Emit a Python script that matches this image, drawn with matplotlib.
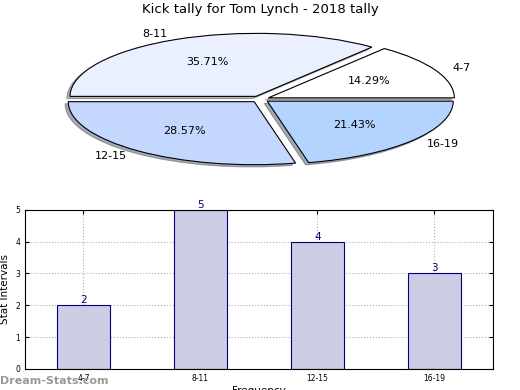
import matplotlib
matplotlib.use("Agg")
import matplotlib.pyplot as plt

categories = ["4-7", "8-11", "12-15", "16-19"]
counts = [2, 5, 4, 3]
pie_colors = ["#ffffff", "#eaf0ff", "#c4d8ff", "#b3d4ff"]
title = "Kick tally for Tom Lynch - 2018 tally"

fig = plt.figure(figsize=(5.2, 3.9), dpi=100)

# Pie
axp = fig.add_axes([0.053, 0.5436, 0.894, 0.404])
wedges, texts, autotexts = axp.pie(
    counts, labels=categories, colors=pie_colors, autopct="%.2f%%",
    explode=[0.05] * len(counts),
    shadow={"ox": -0.012, "oy": -0.025, "shade": 0.6},
    startangle=0,
    wedgeprops=dict(edgecolor="black", linewidth=0.8),
    textprops=dict(fontsize=8), labeldistance=1.1, pctdistance=0.6)
axp.set_aspect("auto")
axp.set_xlim(-1.25, 1.25)
axp.set_ylim(-1.25, 1.25)
fig.text(0.5, 1 - 10 / 390, title, ha="center", va="center", fontsize=9.5)

# Bars
axb = fig.add_axes([0.048, 0.054, 0.9, 0.408])
x = list(range(len(categories)))
bars = axb.bar(x, counts, width=0.45, color="#ccccE4", edgecolor="navy", linewidth=0.8, zorder=2)
for xi, c in zip(x, counts):
    axb.text(xi, c, str(c), ha="center", va="bottom", color="navy", fontsize=7.5, zorder=3)
axb.set_xlim(-0.5, len(categories) - 0.5)
axb.set_ylim(0, 5)
axb.set_xticks(x)
axb.set_xticklabels(categories)
axb.set_yticks(range(0, 6))
axb.tick_params(labelsize=5.5, direction="in", top=True, right=True, length=3)
axb.grid(True, linestyle=":", color="#b0b0b0", linewidth=0.8, zorder=0)
axb.set_axisbelow(True)
axb.set_ylabel("Stat Intervals", fontsize=7.5)
axb.set_xlabel("Frequency", fontsize=7.5, labelpad=2)

fig.text(0.0, (390 - 381) / 390, "Dream-Stats.com", color="#999999", fontsize=8,
         fontweight="bold", ha="left", va="center")

fig.savefig("out.png", dpi=100)
